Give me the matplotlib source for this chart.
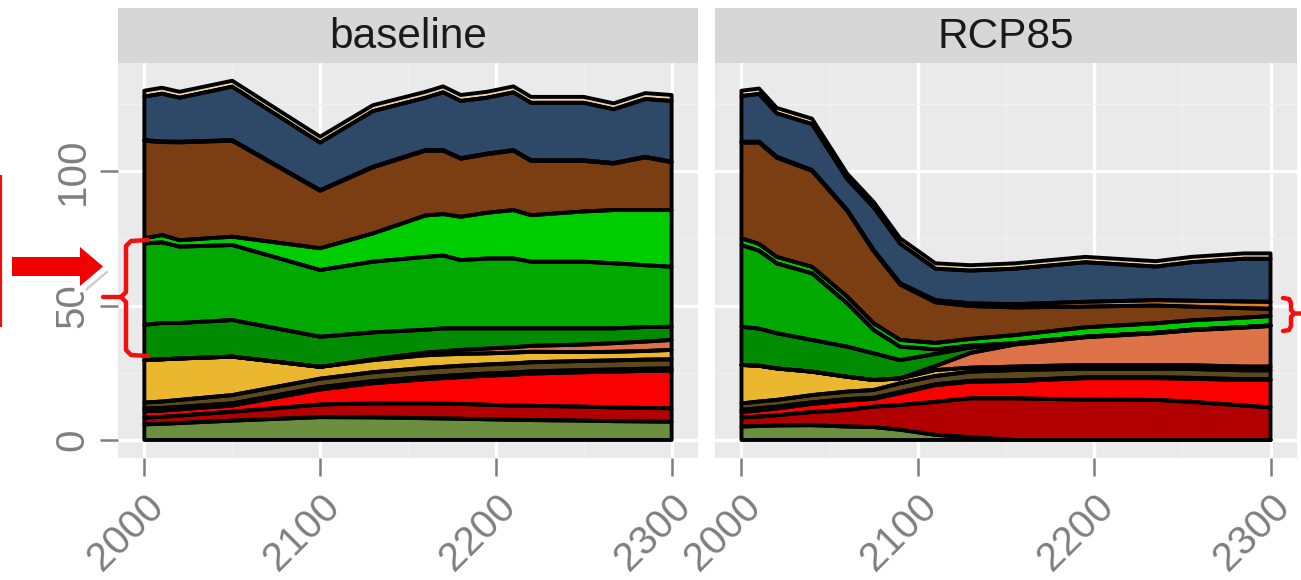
import numpy as np
import matplotlib
matplotlib.use("Agg")
import matplotlib.pyplot as plt
from matplotlib.patches import Polygon
import matplotlib.patheffects as pe

plt.rcParams['font.family'] = ['Liberation Sans', 'DejaVu Sans']

# colores de las capas (de abajo hacia arriba)
layer_colors = ['#6B8E3F', '#B20000', '#FA0000', '#3B3A10', '#5C4A1C', '#EBB72F',
                '#DE7249', '#008B00', '#00A800', '#00CD00', '#7B3E13', '#E8801E',
                '#2E4868', '#EFD4A8']

# --- escenario baseline ---
years_base = [2000, 2010, 2020, 2050, 2100, 2130, 2160, 2170, 2180, 2195, 2210, 2220, 2250, 2267, 2285, 2300]
base_olive = [5.8, 6.0, 6.3, 7.2, 8.5, 8.4, 8.1, 8.0, 7.9, 7.7, 7.5, 7.4, 7.2, 7.0, 6.9, 6.8]
base_darkred = [2.5, 2.6, 2.8, 3.3, 4.7, 5.2, 5.5, 5.5, 5.5, 5.4, 5.3, 5.3, 5.2, 5.1, 5.0, 5.0]
base_red = [2.4, 2.3, 2.3, 2.3, 5.6, 7.5, 9.0, 9.5, 10.0, 10.8, 11.5, 12.0, 12.8, 13.3, 13.8, 14.0]
base_olive2 = [1.0, 1.0, 0.9, 0.8, 0.8, 0.8, 0.8, 0.8, 0.8, 0.8, 0.8, 0.8, 0.8, 0.8, 0.8, 0.8]
base_darkolive = [2.2, 2.4, 2.6, 3.1, 3.2, 3.3, 3.4, 3.4, 3.4, 3.4, 3.4, 3.4, 3.4, 3.4, 3.4, 3.4]
base_yellow = [15.8, 15.7, 15.4, 14.3, 4.4, 4.5, 4.7, 4.6, 4.4, 4.1, 4.0, 3.9, 3.3, 3.2, 3.2, 3.5]
base_salmon = [0, 0, 0, 0, 0, 0.3, 1.0, 1.2, 1.5, 1.8, 2.0, 2.2, 2.8, 3.2, 3.5, 3.7]
base_darkgreen = [13.1, 13.5, 13.2, 13.6, 11.2, 10.0, 8.5, 8.5, 8.0, 7.5, 7.0, 6.5, 6.0, 5.5, 5.4, 4.9]
base_midgreen = [30.3, 30.0, 28.4, 27.9, 24.8, 26.3, 27.1, 27.1, 25.4, 26.0, 26.0, 24.8, 24.8, 24.2, 23.0, 22.3]
base_brightgreen = [1.9, 2.7, 2.4, 3.1, 8.1, 10.5, 15.4, 15.4, 16.1, 17.0, 18.0, 17.3, 18.7, 19.8, 20.5, 21.1]
base_brown = [36.3, 34.6, 36.4, 35.7, 21.4, 24.6, 24.1, 23.6, 21.6, 21.8, 22.1, 20.2, 18.8, 17.3, 19.6, 17.8]
base_orange = [0.2] * 16
base_navy = [16.2, 17.8, 16.4, 19.9, 17.7, 20.7, 19.5, 21.5, 21.3, 20.8, 21.5, 21.4, 21.4, 20.0, 21.5, 22.6]
base_beige = [2.2] * 16

# --- escenario RCP85 ---
years_rcp = [2000, 2010, 2020, 2040, 2060, 2075, 2090, 2110, 2130, 2155, 2195, 2235, 2255, 2285, 2300]
rcp_olive = [5.0, 5.2, 5.4, 5.5, 5.0, 4.8, 3.8, 1.9, 1.0, 0.0, 0, 0, 0, 0, 0]
rcp_darkred = [3.4, 3.5, 3.8, 4.9, 6.2, 7.6, 9.2, 12.3, 14.5, 15.5, 15.0, 14.9, 14.2, 12.8, 12.1]
rcp_red = [2.0, 2.3, 2.5, 3.0, 3.5, 2.9, 4.4, 6.2, 6.2, 6.4, 8.0, 8.1, 8.6, 9.5, 10.2]
rcp_olive2 = [0.8, 0.8, 0.7, 0.6, 0.5, 0.4, 0.4, 0.3, 0.3, 0.3, 0.3, 0.3, 0.3, 0.3, 0.3]
rcp_darkolive = [2.4, 2.5, 2.5, 2.7, 2.8, 2.9, 3.3, 3.1, 3.4, 3.8, 3.2, 3.2, 3.3, 3.3, 3.3]
rcp_yellow = [14.3, 13.3, 11.7, 8.7, 5.5, 3.7, 1.8, 2.2, 1.5, 1.3, 1.4, 1.4, 1.4, 1.4, 1.4]
rcp_salmon = [0, 0, 0, 0, 0, 0, 0, 1.5, 5.5, 8.2, 10.3, 11.8, 13.0, 14.5, 15.1]
rcp_darkgreen = [14.2, 13.8, 13.1, 11.8, 11.2, 9.9, 6.8, 4.5, 2.0, 0.5, 0.2, 0.2, 0.2, 0.2, 0.2]
rcp_midgreen = [30.4, 29.0, 26.0, 24.8, 16.1, 8.7, 5.0, 1.7, 0.7, 0, 0, 0, 0, 0, 0]
rcp_brightgreen = [2.5, 2.5, 2.4, 2.4, 2.5, 2.5, 2.5, 2.4, 2.5, 3.0, 3.5, 3.5, 3.5, 3.5, 3.5]
rcp_brown = [35.6, 37.7, 36.9, 35.7, 31.9, 26.8, 20.6, 15.1, 12.2, 10.3, 7.7, 6.6, 5.1, 3.5, 2.7]
rcp_orange = [0.3, 0.3, 0.3, 0.3, 0.3, 0.4, 0.5, 0.8, 1.0, 1.2, 1.8, 2.0, 2.2, 2.5, 2.6]
rcp_navy = [17.0, 17.8, 16.2, 17.1, 11.5, 15.9, 14.7, 11.7, 12.2, 13.2, 14.7, 12.5, 14.3, 15.9, 16.0]
rcp_beige = [2.0] * 15

base_layers = [base_olive, base_darkred, base_red, base_olive2, base_darkolive, base_yellow,
               base_salmon, base_darkgreen, base_midgreen, base_brightgreen, base_brown,
               base_orange, base_navy, base_beige]
rcp_layers = [rcp_olive, rcp_darkred, rcp_red, rcp_olive2, rcp_darkolive, rcp_yellow,
              rcp_salmon, rcp_darkgreen, rcp_midgreen, rcp_brightgreen, rcp_brown,
              rcp_orange, rcp_navy, rcp_beige]

W, H = 1301, 580


def frac(x0, y0, x1, y1):
    # caja en pixeles (desde arriba-izquierda) -> fracción de figura
    return [x0 / W, 1 - y1 / H, (x1 - x0) / W, (y1 - y0) / H]


fig = plt.figure(figsize=(W / 100, H / 100), dpi=100)
fig.patch.set_facecolor('white')

grey_txt = '#7F7F7F'
panels = [
    ('baseline', years_base, base_layers, 118, 698),
    ('RCP85', years_rcp, rcp_layers, 715, 1297),
]

for i, (title, yrs, layers, x0, x1) in enumerate(panels):
    ax = fig.add_axes(frac(x0, 63, x1, 458))
    ax.set_facecolor('#EAEAEA')
    # rellenos primero, contornos negros encima (así no se tapan a medias)
    ax.stackplot(yrs, *layers, colors=layer_colors, linewidth=0, zorder=3)
    ax.stackplot(yrs, *layers, colors=['none'] * len(layers), edgecolor='black',
                 linewidth=2.8, joinstyle='round', zorder=4)
    ax.set_xlim(1985, 2315)
    ax.set_ylim(-6.7, 140.2)
    ax.set_xticks([2000, 2100, 2200, 2300])
    ax.set_xticks([2050, 2150, 2250], minor=True)
    ax.set_yticks([0, 50, 100])
    ax.set_yticks([25, 75, 125], minor=True)
    ax.grid(True, which='major', color='white', linewidth=2.4, zorder=0)
    ax.grid(True, which='minor', color='#F1F1F1', linewidth=1.0, zorder=0)
    ax.set_axisbelow(True)
    for s in ax.spines.values():
        s.set_visible(False)
    ax.tick_params(which='major', length=13, width=1.8, color=grey_txt,
                   labelsize=29, labelcolor=grey_txt)
    ax.tick_params(which='minor', length=0)
    ax.tick_params(axis='x', pad=8)
    ax.tick_params(axis='y', pad=6)
    for lab in ax.get_xticklabels():
        lab.set_rotation(45)
        lab.set_ha('right')
        lab.set_va('top')
        lab.set_rotation_mode('anchor')
    if i == 0:
        for lab in ax.get_yticklabels():
            lab.set_rotation(90)
            lab.set_va('center')
    else:
        ax.tick_params(axis='y', left=False, labelleft=False)

    strip = fig.add_axes(frac(x0, 8, x1, 63))
    strip.set_facecolor('#D7D7D7')
    strip.set_xticks([])
    strip.set_yticks([])
    for s in strip.spines.values():
        s.set_visible(False)
    strip.text(0.5, 0.47, title, ha='center', va='center', fontsize=30.5,
               color='#1A1A1A', transform=strip.transAxes)

# capa de anotaciones en pixeles
ov = fig.add_axes([0, 0, 1, 1], zorder=10)
ov.set_xlim(0, W)
ov.set_ylim(H, 0)
ov.axis('off')
ov.patch.set_alpha(0)

red = '#F01010'
# línea roja en el borde izquierdo
ov.plot([1, 1], [175, 327], color=red, linewidth=1.6, solid_capstyle='butt')

# flecha roja con borde blanco y sombra
arrow_pts = [(12, 257), (80, 257), (80, 247), (103, 266.5), (80, 286), (80, 276), (12, 276)]
outline = Polygon(arrow_pts, closed=True, facecolor='white', edgecolor='white',
                  linewidth=8, joinstyle='miter')
outline.set_path_effects([pe.SimplePatchShadow(offset=(4, -4), shadow_rgbFace='#8A8A8A', alpha=0.45),
                          pe.Normal()])
ov.add_patch(outline)
ov.add_patch(Polygon(arrow_pts, closed=True, facecolor='#F20000', edgecolor='none'))

# llave izquierda
ov.plot([148, 131, 126, 126, 121, 103], [240, 241, 246, 292, 297, 297],
        color=red, linewidth=3.2, solid_joinstyle='round', solid_capstyle='round')
ov.plot([121, 126, 126, 131, 148], [297, 302, 350, 355, 356],
        color=red, linewidth=3.2, solid_joinstyle='round', solid_capstyle='round')

# llave derecha
ov.plot([1283, 1289, 1291, 1291, 1294, 1301], [298, 299, 303, 310, 313.5, 313.5],
        color=red, linewidth=3.2, solid_joinstyle='round', solid_capstyle='round')
ov.plot([1294, 1291, 1291, 1289, 1283], [313.5, 317, 326, 330, 331],
        color=red, linewidth=3.2, solid_joinstyle='round', solid_capstyle='round')

fig.savefig('out.png', dpi=100)
